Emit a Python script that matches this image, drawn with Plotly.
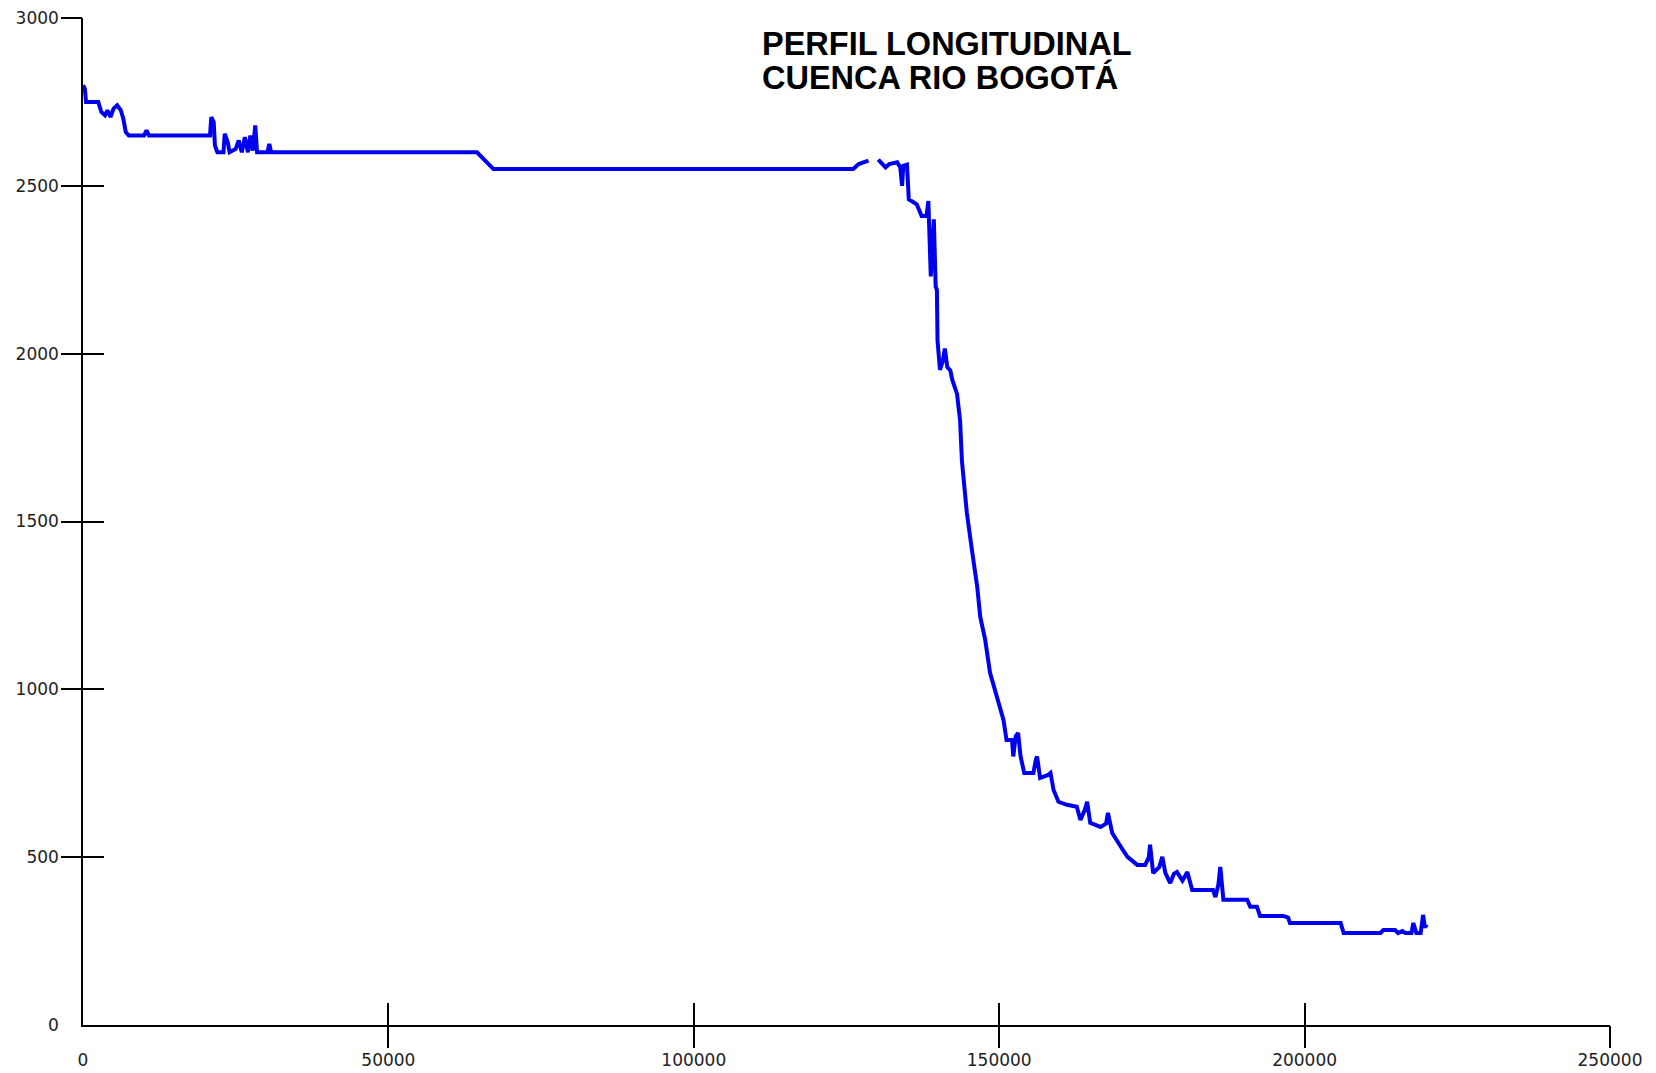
import plotly.graph_objects as go

# Distance along the river (m) and elevation (m.s.n.m.)
distancia = [
    0, 300, 500, 2500, 3000, 3600, 4000, 4500, 5000, 5600, 6200, 6600, 7000, 7500,
    10000, 10400, 10800, 20800, 21000, 21400, 21600, 22000, 23000, 23200, 23700, 24000,
    25000, 25500, 26000, 26500, 27000, 27400, 27800, 28200, 28500, 30200, 30500, 30800,
    64500, 65500, 67200, 126100, 127000, 128600, None,
    130200, 131400, 132000, 133300, 133800, 134100, 134300, 134900, 135200, 136500,
    137300, 138100, 138400, 138800, 139300, 139600, 139800, 139900, 140300, 140800,
    141100, 141500, 142000, 142300, 143100, 143600, 143900, 144700, 145600, 146400,
    146900, 147700, 148500, 149400, 150200, 150700, 151200, 152100, 152300, 152700,
    153100, 153500, 154100, 155600, 156000, 156200, 156700, 158000, 158400, 158900,
    159700, 161100, 162700, 163300, 164000, 164400, 164900, 166600, 167500, 167800,
    168500, 169800, 170300, 171000, 172600, 173900, 174500, 174700, 175000, 175200,
    176200, 176700, 177200, 178000, 178600, 179100, 180000, 180800, 181600, 185000,
    185400, 185900, 186200, 186700, 190600, 191100, 192200, 192700, 196500, 197300,
    197600, 205900, 206400, 212400, 212900, 214800, 215300, 216000, 216500, 217500,
    217800, 218300, 219000, 219400, 219700, 220000,
]
elevacion = [
    2800, 2790, 2750, 2750, 2720, 2710, 2725, 2705, 2730, 2740, 2725, 2700, 2660, 2650,
    2650, 2665, 2650, 2650, 2705, 2690, 2620, 2600, 2600, 2655, 2630, 2600,
    2610, 2635, 2600, 2645, 2600, 2650, 2605, 2680, 2600, 2600, 2625, 2600,
    2600, 2580, 2550, 2550, 2565, 2575, None,
    2578, 2555, 2565, 2570, 2555, 2500, 2560, 2563, 2460, 2445,
    2410, 2410, 2455, 2230, 2400, 2200, 2190, 2040, 1952, 1980,
    2015, 1960, 1950, 1923, 1880, 1800, 1680, 1526, 1407, 1306,
    1216, 1148, 1049, 990, 948, 909, 849, 849, 800, 860,
    870, 800, 751, 751, 790, 800, 736, 745, 751, 700,
    665, 656, 650, 611, 640, 665, 602, 590, 600, 632,
    572, 531, 520, 501, 477, 477, 500, 537, 470, 453,
    470, 501, 453, 423, 450, 456, 430, 456, 402, 402,
    381, 420, 471, 373, 373, 352, 352, 325, 325, 320,
    304, 304, 274, 274, 283, 283, 274, 280, 274, 274,
    304, 274, 274, 328, 290, 300,
]

x_ticks = [0, 50000, 100000, 150000, 200000, 250000]
x_ticktext = ["0", "50000", "100000", "150000", "200000", "250000"]
y_ticks = [0, 500, 1000, 1500, 2000, 2500, 3000]
y_ticktext = ["0", "500", "1000", "1500", "2000", "2500", "3000"]
titulo = ["PERFIL LONGITUDINAL", "CUENCA RIO BOGOTÁ"]

X_RANGE = [0, 250000]
Y_RANGE = [0, 3000]
tick_font = dict(family="DejaVu Sans", size=17, color="#222222")

fig = go.Figure()
fig.add_trace(go.Scatter(
    x=distancia, y=elevacion, mode="lines", connectgaps=False,
    line=dict(color="#0000F0", width=4), showlegend=False, hoverinfo="x+y",
))
# invisible traces to host the crossing-tick overlay axes
for xa, ya in (("x2", "y2"), ("x3", "y3")):
    fig.add_trace(go.Scatter(x=[None], y=[None], xaxis=xa, yaxis=ya,
                             showlegend=False, hoverinfo="skip"))

overlay_common = dict(showticklabels=False, showgrid=False, zeroline=False,
                      showline=False, tickcolor="black", tickwidth=1.5,
                      automargin=False)

fig.update_layout(
    width=1648, height=1065,
    margin=dict(l=75, r=46, t=10, b=48),
    paper_bgcolor="white", plot_bgcolor="white",
    xaxis=dict(range=X_RANGE, tickvals=x_ticks, ticktext=x_ticktext, ticks="",
               showgrid=False, zeroline=False, showline=True, linecolor="black",
               linewidth=1.5, tickfont=tick_font, ticklabelstandoff=19,
               ticklabeloverflow="allow", automargin=False),
    yaxis=dict(range=Y_RANGE, tickvals=y_ticks, ticktext=y_ticktext, ticks="",
               showgrid=False, zeroline=False, showline=True, linecolor="black",
               linewidth=1.5, tickfont=tick_font, ticklabelstandoff=19,
               ticklabeloverflow="allow", automargin=False),
    xaxis2=dict(range=X_RANGE, tickvals=x_ticks[1:], ticks="outside", ticklen=22,
                overlaying="x", anchor="y2", **overlay_common),
    yaxis2=dict(range=Y_RANGE, tickvals=y_ticks[1:], ticks="outside", ticklen=21,
                overlaying="y", anchor="x2", **overlay_common),
    xaxis3=dict(range=X_RANGE, tickvals=x_ticks[1:], ticks="inside", ticklen=22,
                overlaying="x", anchor="y3", **overlay_common),
    yaxis3=dict(range=Y_RANGE, tickvals=y_ticks[1:], ticks="inside", ticklen=21,
                overlaying="y", anchor="x3", **overlay_common),
    annotations=[
        dict(text=titulo[0], xref="paper", yref="paper", x=0.4434, y=0.9744,
             xanchor="left", yanchor="middle", showarrow=False,
             font=dict(family="Arial, Liberation Sans", size=32.5, color="black",
                       weight="bold")),
        dict(text=titulo[1], xref="paper", yref="paper", x=0.4434, y=0.9412,
             xanchor="left", yanchor="middle", showarrow=False,
             font=dict(family="Arial, Liberation Sans", size=32.5, color="black",
                       weight="bold")),
    ],
)

fig.write_html("out.html")
